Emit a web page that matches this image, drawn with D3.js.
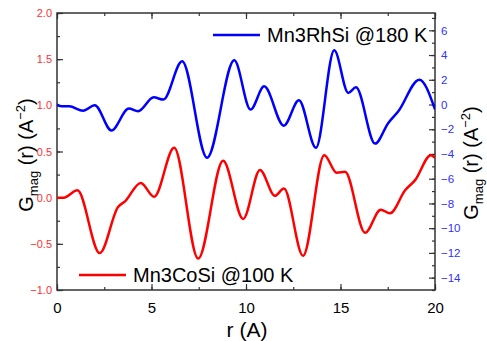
<!DOCTYPE html>
<html>
<head>
<meta charset="utf-8">
<script src="https://cdn.jsdelivr.net/npm/d3@7"></script>
<style>
  html, body { margin: 0; padding: 0; background: #fff; }
  svg { display: block; }
  text { font-family: "Liberation Sans", Arial, sans-serif; }
</style>
</head>
<body>
<svg id="chart" width="487" height="341"></svg>
<script>
// Magnetic pair distribution function, two compounds
// Mn3CoSi plotted on the left axis, Mn3RhSi on the right axis
const rCoSi = [0, 0.35, 1.08, 2.26, 3.23, 3.6, 4.43, 5.14, 6.2, 7.47, 8.79, 9.85, 10.74, 11.53, 12.01, 13.02, 14.14, 14.8, 15.24, 16.3, 17.13, 17.62, 18.42, 18.95, 19.78, 20];
const gCoSi = [0, 0.0, 0.08, -0.6, -0.1, -0.04, 0.16, 0.01, 0.54, -0.66, 0.4, -0.23, 0.3, 0.02, 0.1, -0.63, 0.46, 0.27, 0.28, -0.38, -0.13, -0.17, 0.08, 0.19, 0.46, 0.43];

const rRhSi = [0, 0.25, 0.65, 1.38, 2.0, 2.88, 3.8, 4.29, 5.12, 5.63, 6.62, 7.94, 9.38, 10.24, 10.96, 12.0, 12.8, 13.7, 14.67, 15.41, 15.82, 16.83, 17.53, 18.06, 19.17, 20];
const gRhSi = [0, -0.15, -0.15, -0.5, -0.06, -2.1, -0.33, -0.55, 0.58, 0.4, 3.5, -4.3, 3.57, -0.41, 1.47, -1.71, 0.34, -3.5, 4.38, 0.94, 1.39, -3.16, -1.49, -0.55, 2.0, -0.4];

const xTicks = [0, 5, 10, 15, 20];
const leftTicks = [-1.0, -0.5, 0.0, 0.5, 1.0, 1.5, 2.0];
const rightTicks = [-14, -12, -10, -8, -6, -4, -2, 0, 2, 4, 6];

const svg = d3.select("#chart");
const L = 57, R = 435, T = 13, B = 290;

const x = d3.scaleLinear().domain([0, 20]).range([L, R]);
const yL = d3.scaleLinear().domain([-1, 2]).range([B, T]);
const yR = d3.scaleLinear().domain([-15, 7.4]).range([B, T]);

const red = "#ff0000", blue = "#0000ff";
const axisColor = "#333";

function styleAxis(g) {
  g.selectAll(".domain").remove();
  g.selectAll("line").attr("stroke", axisColor).attr("stroke-width", 1.2);
}

// minor ticks
const minorX = d3.range(0, 20.01, 2.5);
const minorL = d3.range(-1, 2.01, 0.25);
const minorR = d3.range(-15, 7.01, 1);

svg.append("g").attr("transform", `translate(0,${B})`)
  .call(d3.axisBottom(x).tickValues(minorX).tickSize(-3).tickFormat(""))
  .call(styleAxis);
svg.append("g").attr("transform", `translate(0,${T})`)
  .call(d3.axisTop(x).tickValues(minorX).tickSize(-3).tickFormat(""))
  .call(styleAxis);
svg.append("g").attr("transform", `translate(${L},0)`)
  .call(d3.axisLeft(yL).tickValues(minorL).tickSize(-3).tickFormat(""))
  .call(styleAxis);
svg.append("g").attr("transform", `translate(${R},0)`)
  .call(d3.axisRight(yR).tickValues(minorR).tickSize(-3).tickFormat(""))
  .call(styleAxis);

// major ticks
const gx = svg.append("g").attr("transform", `translate(0,${B})`)
  .call(d3.axisBottom(x).tickValues(xTicks).tickSize(-6).tickPadding(12).tickFormat(d3.format("d")))
  .call(styleAxis);
gx.selectAll("text").attr("font-size", 15).attr("fill", "#000");

svg.append("g").attr("transform", `translate(0,${T})`)
  .call(d3.axisTop(x).tickValues(xTicks).tickSize(-6).tickFormat(""))
  .call(styleAxis);

const gl = svg.append("g").attr("transform", `translate(${L},0)`)
  .call(d3.axisLeft(yL).tickValues(leftTicks).tickSize(-6).tickPadding(5).tickFormat(d3.format(".1f")))
  .call(styleAxis);
gl.selectAll("text").attr("font-size", 11).attr("fill", "#ff3030");

const gr = svg.append("g").attr("transform", `translate(${R},0)`)
  .call(d3.axisRight(yR).tickValues(rightTicks).tickSize(-6).tickPadding(6).tickFormat(d3.format("d")))
  .call(styleAxis);
gr.selectAll("text").attr("font-size", 11.5).attr("fill", "#3030ff");

// frame
svg.append("rect").attr("x", L).attr("y", T).attr("width", R - L).attr("height", B - T)
  .attr("fill", "none").attr("stroke", axisColor).attr("stroke-width", 1.5);

// curves
const clip = svg.append("clipPath").attr("id", "plotClip")
  .append("rect").attr("x", L).attr("y", T).attr("width", R - L).attr("height", B - T);

const lineCo = d3.line().x((d, i) => x(rCoSi[i])).y(d => yL(d)).curve(d3.curveMonotoneX);
const lineRh = d3.line().x((d, i) => x(rRhSi[i])).y(d => yR(d)).curve(d3.curveMonotoneX);

svg.append("path").attr("d", lineRh(gRhSi)).attr("fill", "none")
  .attr("stroke", blue).attr("stroke-width", 2.5).attr("clip-path", "url(#plotClip)");
svg.append("path").attr("d", lineCo(gCoSi)).attr("fill", "none")
  .attr("stroke", red).attr("stroke-width", 2.5).attr("clip-path", "url(#plotClip)");

// legends
function legend(x0, y0, color, label) {
  svg.append("line").attr("x1", x0).attr("x2", x0 + 47).attr("y1", y0).attr("y2", y0)
    .attr("stroke", color).attr("stroke-width", 2.5);
  svg.append("text").attr("x", x0 + 54).attr("y", y0 + 7).attr("font-size", 20)
    .attr("fill", "#000").text(label);
}
legend(213, 35, blue, "Mn3RhSi @180 K");
legend(79, 275, red, "Mn3CoSi @100 K");

// axis titles
svg.append("text").attr("x", 247).attr("y", 337).attr("text-anchor", "middle")
  .attr("font-size", 21).attr("fill", "#000").text("r (A)");

function yTitle(tx, ty) {
  const t = svg.append("text").attr("transform", `translate(${tx},${ty}) rotate(-90)`)
    .attr("text-anchor", "middle").attr("font-size", 20).attr("fill", "#000");
  t.append("tspan").text("G");
  t.append("tspan").attr("font-size", 13).attr("dy", 5).text("mag");
  t.append("tspan").attr("dy", -5).text(" (r) (A");
  t.append("tspan").attr("font-size", 13).attr("dy", -8).text("−2");
  t.append("tspan").attr("dy", 8).text(")");
}
yTitle(33, 155);
yTitle(478, 163);
</script>
</body>
</html>
